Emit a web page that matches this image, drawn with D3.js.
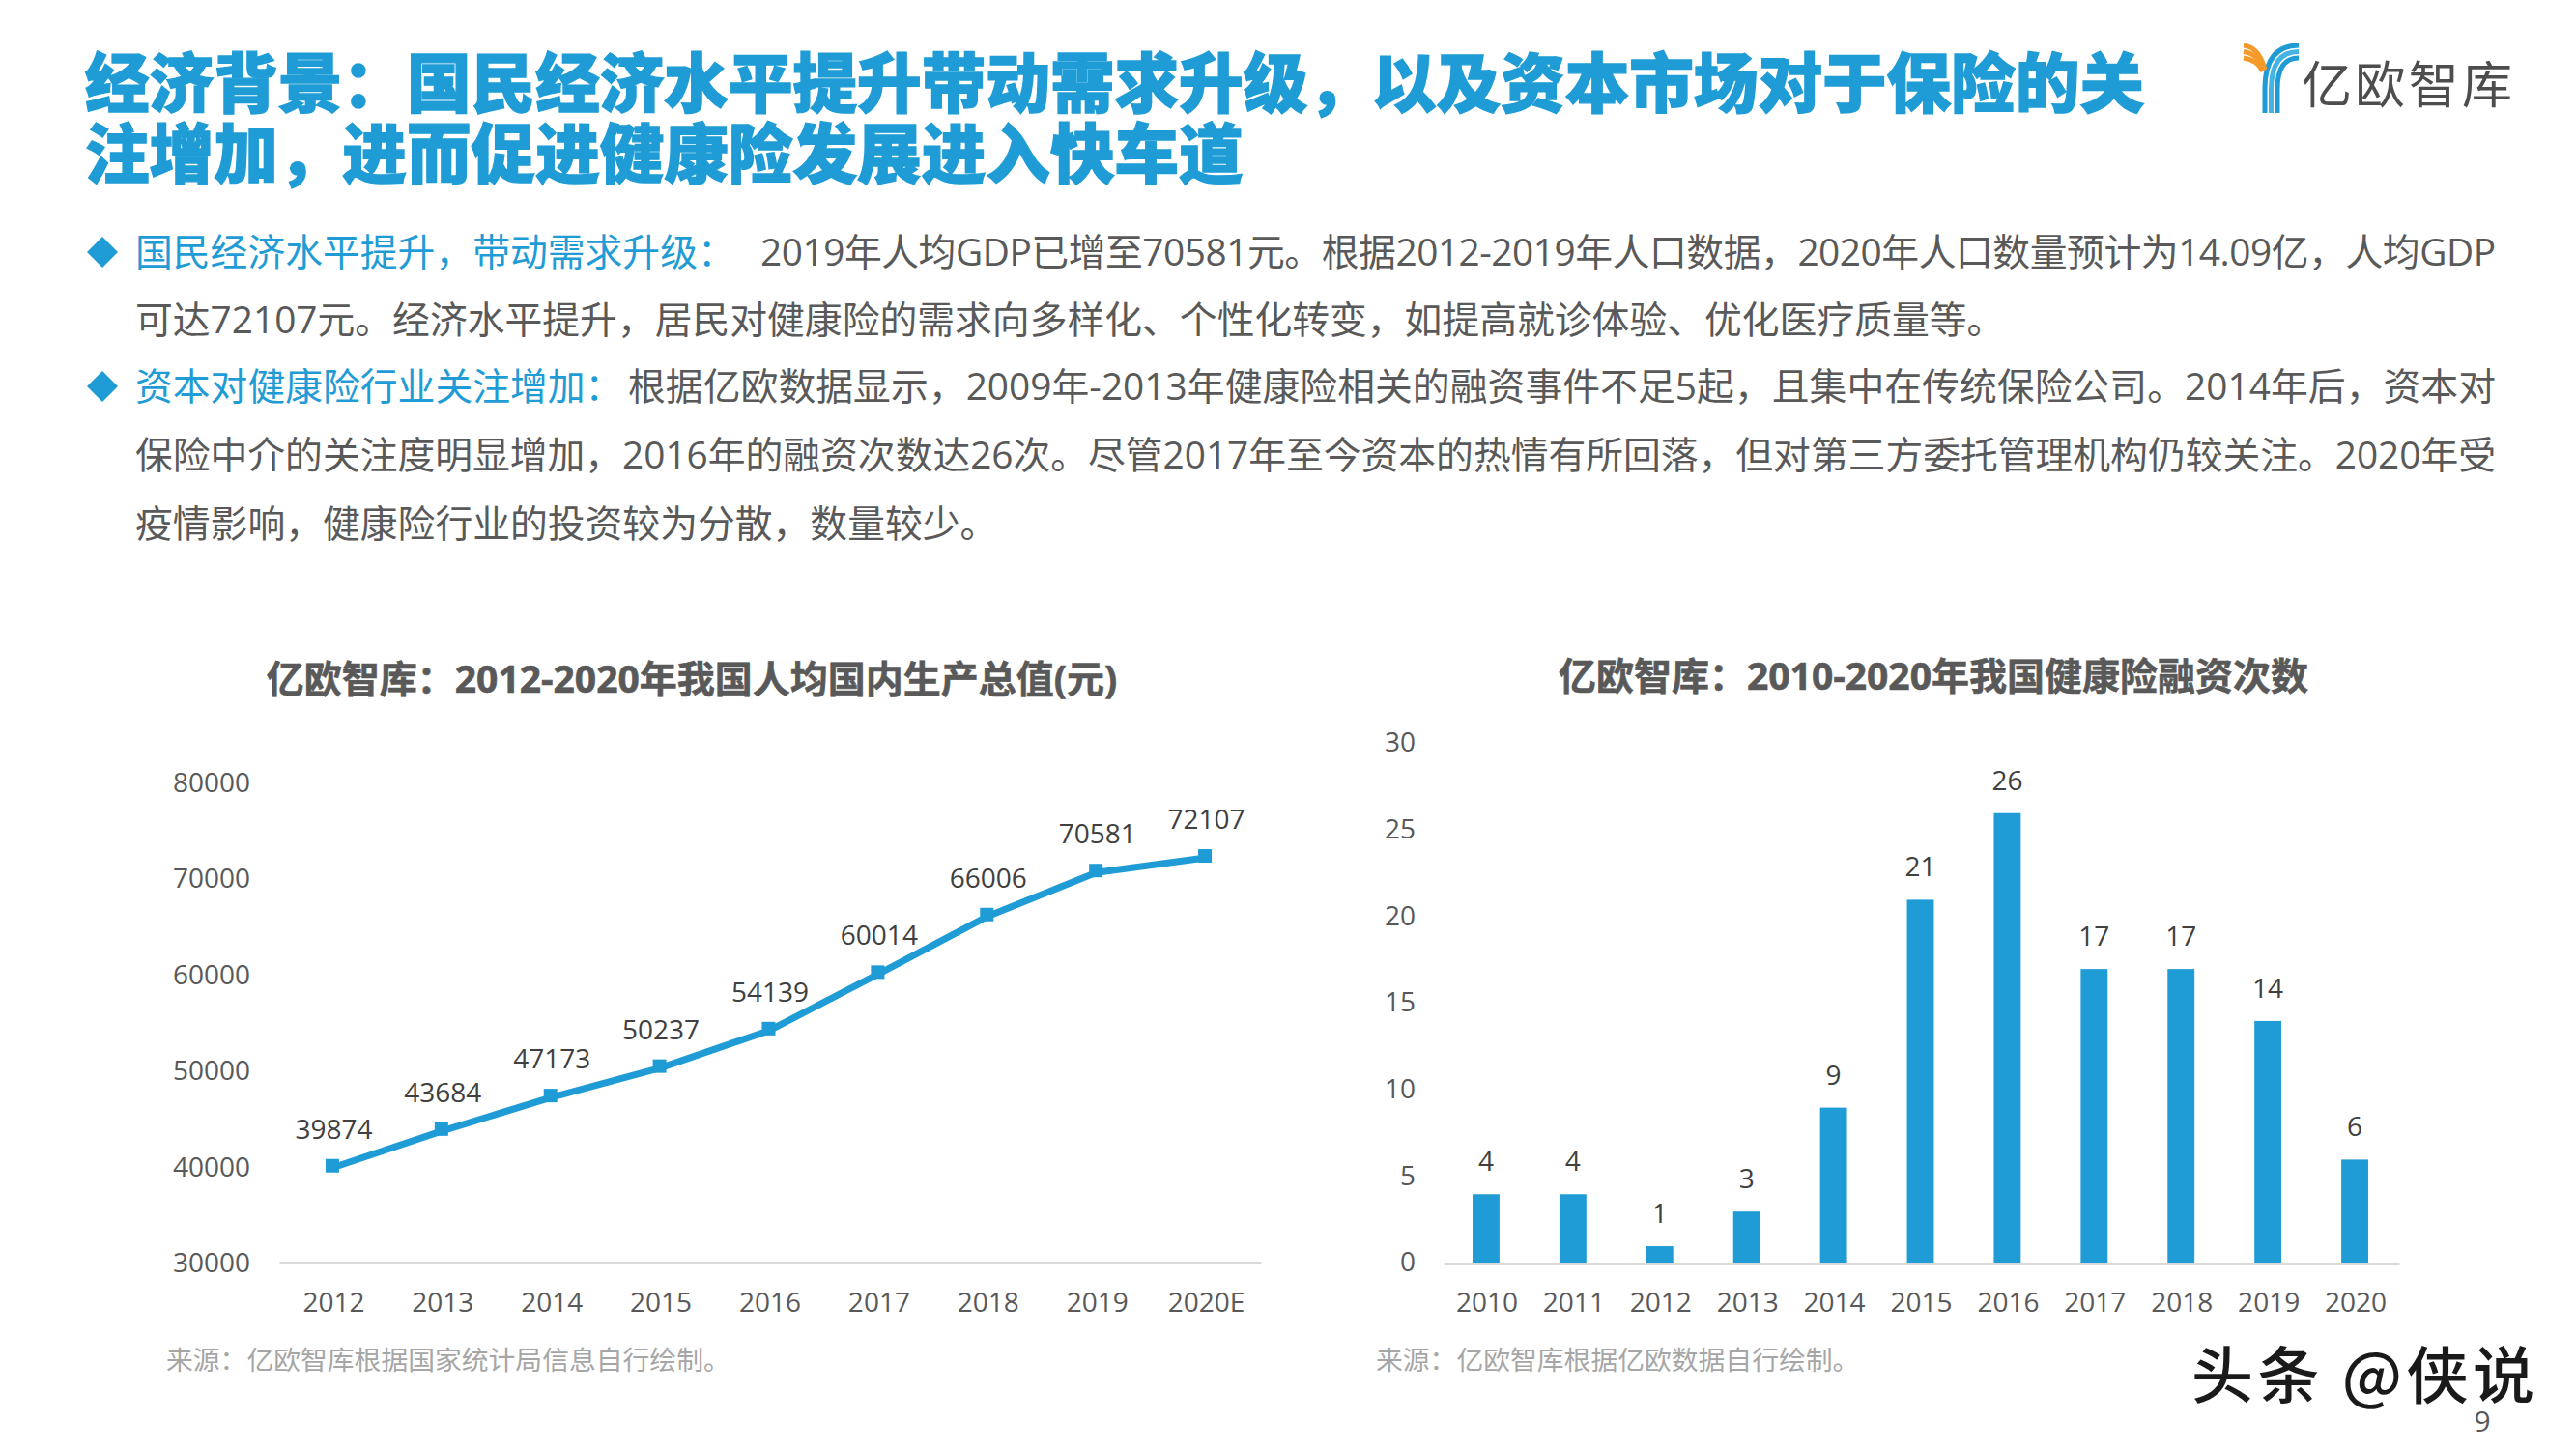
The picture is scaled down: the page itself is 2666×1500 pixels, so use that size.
<!DOCTYPE html>
<html><head><meta charset="utf-8">
<script src="https://cdnjs.cloudflare.com/ajax/libs/d3/7.8.5/d3.min.js"></script>
<style>html,body{margin:0;padding:0;background:#fff}svg{display:block}text{font-family:"Open Sans","Noto Sans CJK SC",sans-serif}</style>
</head><body><svg id="c" width="2666" height="1500"></svg>
<script>
const titleLines = ["经济背景：国民经济水平提升带动需求升级，以及资本市场对于保险的关","注增加，进而促进健康险发展进入快车道"];
const gdpYears = ["2012","2013","2014","2015","2016","2017","2018","2019","2020E"];
const gdpValues = [39874,43684,47173,50237,54139,60014,66006,70581,72107];
const gdpTicks = [30000,40000,50000,60000,70000,80000];
const dealYears = ["2010","2011","2012","2013","2014","2015","2016","2017","2018","2019","2020"];
const dealValues = [4,4,1,3,9,21,26,17,17,14,6];
const dealTicks = [0,5,10,15,20,25,30];
const bodyRuns = [
 {y:261,x:140,fill:"#1f9cd6",t:"国民经济水平提升，带动需求升级："},
 {y:261,x:787,end:2583,fill:"#595959",t:"2019年人均GDP已增至70581元。根据2012-2019年人口数据，2020年人口数量预计为14.09亿，人均GDP"},
 {y:331,x:140,fill:"#595959",t:"可达72107元。经济水平提升，居民对健康险的需求向多样化、个性化转变，如提高就诊体验、优化医疗质量等。"},
 {y:400,x:140,fill:"#1f9cd6",t:"资本对健康险行业关注增加："},
 {y:400,x:650,end:2583,fill:"#595959",t:"根据亿欧数据显示，2009年-2013年健康险相关的融资事件不足5起，且集中在传统保险公司。2014年后，资本对"},
 {y:471,x:140,end:2583,fill:"#595959",t:"保险中介的关注度明显增加，2016年的融资次数达26次。尽管2017年至今资本的热情有所回落，但对第三方委托管理机构仍较关注。2020年受"},
 {y:542,x:140,fill:"#595959",t:"疫情影响，健康险行业的投资较为分散，数量较少。"}
];
const blue="#1f9cd6", axisGrey="#595959", labelDark="#404040";
const svg=d3.select("#c");
const CJK='"Noto Sans CJK SC",sans-serif';

svg.selectAll("text.title").data(titleLines).join("text").attr("class","title")
 .attr("x",88).attr("y",(d,i)=>87+i*73).attr("dy","0.36em")
 .style("font-family",CJK).style("font-weight",900).style("font-size","66.6px").attr("fill",blue).attr("stroke",blue).attr("stroke-width",1.4).text(d=>d);

svg.selectAll("text.body").data(bodyRuns).join("text").attr("class","body")
 .attr("x",d=>d.x).attr("y",d=>d.y).attr("dy","0.36em").attr("fill",d=>d.fill)
 .style("font-size","38.8px").each(function(d){ if(d.end) d3.select(this).attr("textLength",d.end-d.x).attr("lengthAdjust","spacing"); }).text(d=>d.t);

svg.selectAll("path.bullet").data([261,400]).join("path").attr("class","bullet")
 .attr("d",y=>`M106 ${y-16}L122 ${y}L106 ${y+16}L90 ${y}Z`).attr("fill",blue);

// logo
const logo=svg.append("g").attr("fill","none").attr("stroke-width",5);
[0,1,2].forEach(o=>{
  const xv=2344+o*6.5, yt=47+o*6.5;
  logo.append("path").attr("d",`M${xv} 117V92Q${xv} ${yt} 2379 ${yt}`).attr("stroke",o==1?"#45b4e4":blue);
  logo.append("path").attr("d",`M2322 ${yt}Q${2338-o} ${yt+2} ${2344-o} ${72+o}`).attr("stroke","#f39a2b");
});
svg.append("text").attr("x",2382).attr("y",88).attr("dy","0.36em").style("font-family",CJK).style("font-weight",400)
 .style("font-size","52px").attr("textLength",218).attr("lengthAdjust","spacing").attr("fill","#4d4d4d").text("亿欧智库");

function chartTitle(x,y,t){svg.append("text").attr("x",x).attr("y",y).attr("dy","0.36em").attr("text-anchor","middle")
 .style("font-weight",700).style("font-size","39px").attr("fill","#595959").attr("stroke","#595959").attr("stroke-width",0.6).text(t);}
function source(x,y,t){svg.append("text").attr("x",x).attr("y",y).attr("dy","0.36em").style("font-size","27.8px").attr("fill","#a6a6a6").text(t);}

// line chart
chartTitle(716,703,"亿欧智库：2012-2020年我国人均国内生产总值(元)");
const x1=d3.scaleBand().domain(gdpYears).range([288,1304]);
const y1=d3.scaleLinear().domain([30000,80000]).range([1307,809.5]);
const ax1=svg.append("g").attr("transform","translate(1,1307)").call(d3.axisBottom(x1).tickSize(0).tickPadding(31));
const ay1=svg.append("g").attr("transform","translate(259,1)").call(d3.axisLeft(y1).tickValues(gdpTicks).tickFormat(d3.format("d")).tickSize(0).tickPadding(0));
ay1.select(".domain").remove();
ax1.select(".domain").attr("stroke","#d9d9d9").attr("stroke-width",3);
const cx1=(d)=>x1(d)+x1.bandwidth()/2;
svg.append("path").datum(gdpValues).attr("fill","none").attr("stroke",blue).attr("stroke-width",7).attr("stroke-linejoin","round")
 .attr("d",d3.line().x((d,i)=>cx1(gdpYears[i])).y(d=>y1(d)));
svg.selectAll("rect.m").data(gdpValues).join("rect").attr("class","m").attr("width",14).attr("height",14)
 .attr("x",(d,i)=>cx1(gdpYears[i])-7.5).attr("y",d=>y1(d)-9).attr("fill",blue);
svg.selectAll("text.dl1").data(gdpValues).join("text").attr("class","dl1").attr("text-anchor","middle")
 .attr("x",(d,i)=>cx1(gdpYears[i])+1).attr("y",d=>y1(d)-40).attr("dy","0.36em").attr("fill",labelDark).style("font-size","28px").text(d=>d);
source(172,1408,"来源：亿欧智库根据国家统计局信息自行绘制。");

// bar chart
chartTitle(2001,700,"亿欧智库：2010-2020年我国健康险融资次数");
const x2=d3.scaleBand().domain(dealYears).range([1493,2482]).paddingInner(0.69).paddingOuter(0.345);
const y2=d3.scaleLinear().domain([0,30]).range([1308,770]);
svg.selectAll("rect.b").data(dealValues).join("rect").attr("class","b")
 .attr("x",(d,i)=>x2(dealYears[i])).attr("width",x2.bandwidth()).attr("y",d=>y2(d)).attr("height",d=>y2(0)-y2(d)).attr("fill",blue);
const ax2=svg.append("g").attr("transform","translate(1,1308)").call(d3.axisBottom(x2).tickSize(0).tickPadding(30));
const ay2=svg.append("g").attr("transform","translate(1465,-1)").call(d3.axisLeft(y2).tickValues(dealTicks).tickSize(0).tickPadding(0));
ay2.select(".domain").remove();
ax2.select(".domain").attr("stroke","#d9d9d9").attr("stroke-width",3);
svg.selectAll("text.dl2").data(dealValues).join("text").attr("class","dl2").attr("text-anchor","middle")
 .attr("x",(d,i)=>x2(dealYears[i])+x2.bandwidth()/2).attr("y",d=>y2(d)-34).attr("dy","0.36em").attr("fill",labelDark).style("font-size","28px").text(d=>d);
source(1424,1408,"来源：亿欧智库根据亿欧数据自行绘制。");

svg.selectAll(".tick text").attr("fill",axisGrey).style("font-size","28px").style("font-family",'"Open Sans","Noto Sans CJK SC",sans-serif');

// watermark & page no.
svg.append("text").attr("x",2268).attr("y",1424).attr("dy","0.36em").attr("textLength",355).attr("lengthAdjust","spacing")
 .style("font-family",CJK).style("font-weight",500).style("font-size","64px").attr("fill","#1a1a1a").attr("stroke","#fff").attr("stroke-width",2).attr("paint-order","stroke").text("头条 @侠说");
svg.append("text").attr("x",2569).attr("y",1471).attr("dy","0.36em").attr("text-anchor","middle").attr("fill","#595959").style("font-size","30px").text("9");
</script></body></html>
